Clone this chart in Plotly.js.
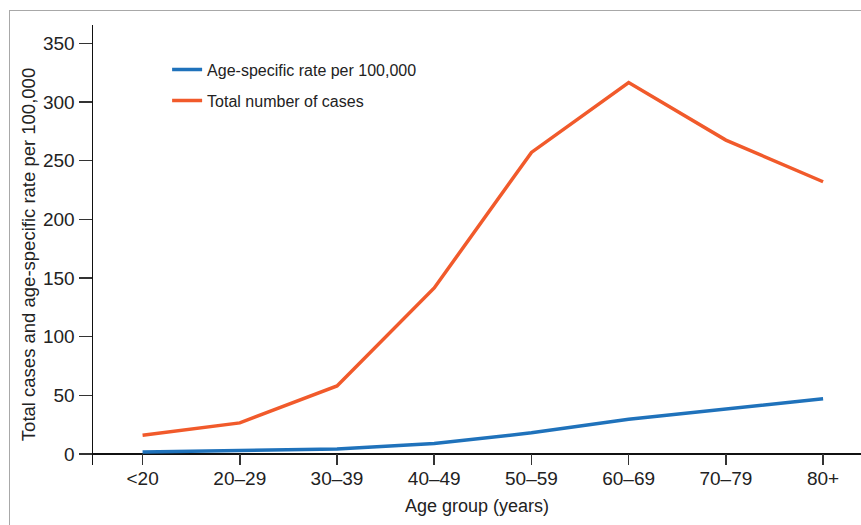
<!DOCTYPE html>
<html>
<head>
<meta charset="utf-8">
<script src="https://cdn.plot.ly/plotly-3.0.1.min.js"></script>
<style>
  html, body { margin: 0; padding: 0; background: #fff; }
  #wrap { position: relative; width: 861px; height: 525px; }
  #chart { width: 861px; height: 525px; }
  #frame { position: absolute; left: 9px; top: 10px; width: 860px; height: 520px;
           border-left: 1.5px solid #a8a8a8; border-top: 1.5px solid #a8a8a8; pointer-events: none; }
</style>
</head>
<body>
<div id="wrap">
  <div id="chart"></div>
  <div id="frame"></div>
</div>
<script>
const ageGroups = ['<20', '20–29', '30–39', '40–49', '50–59', '60–69', '70–79', '80+'];
const ratePer100k = [1.7, 3.3, 4.3, 9, 18, 29.5, 38.5, 47];
const totalCases = [16, 26.5, 58, 141.5, 257, 316.5, 267.5, 232];
const yTicks = [0, 50, 100, 150, 200, 250, 300, 350];
const yTitle = 'Total cases and age-specific rate per 100,000';
const xTitle = 'Age group (years)';

const font = 'Liberation Sans, Arial, sans-serif';

const traces = [
  {
    x: ageGroups, y: ratePer100k, type: 'scatter', mode: 'lines',
    name: 'Age-specific rate per 100,000', legendgroup: 'a',
    line: { color: '#1f72bb', width: 3.5 }
  },
  {
    x: ageGroups, y: totalCases, type: 'scatter', mode: 'lines',
    name: 'Total number of cases', legendgroup: 'b',
    line: { color: '#f15a2b', width: 3.5 }
  }
];

const layout = {
  width: 861, height: 525,
  margin: { l: 93, r: 0, t: 25, b: 60 },
  paper_bgcolor: '#fff', plot_bgcolor: '#fff',
  font: { family: font, color: '#222', size: 16 },
  showlegend: true,
  legend: {
    x: 0.0965, y: 0.937, xanchor: 'left', yanchor: 'top',
    bgcolor: 'rgba(0,0,0,0)', font: { size: 16, color: '#222' },
    traceorder: 'grouped', tracegroupgap: 7, itemwidth: 30
  },
  xaxis: {
    type: 'category', range: [-0.51, 7.39],
    showgrid: false, showline: false, zeroline: false,
    ticks: 'inside', ticklen: 11, tickwidth: 1.5, tickcolor: '#333',
    tickfont: { size: 19, color: '#222' },
    title: { text: xTitle, font: { size: 18, color: '#222' }, standoff: 11 }
  },
  yaxis: {
    range: [-9.4, 365.6],
    tickvals: yTicks, ticktext: yTicks.map(String),
    showgrid: false, showline: true, linecolor: '#111', linewidth: 1.5,
    zeroline: true, zerolinecolor: '#111', zerolinewidth: 1.5,
    ticks: 'outside', ticklen: 13, tickwidth: 1.5, tickcolor: '#333',
    tickfont: { size: 19, color: '#222' }
  },
  annotations: [{
    text: yTitle, textangle: -90, showarrow: false,
    xref: 'paper', yref: 'paper', x: -0.0846, y: 0.477,
    xanchor: 'center', yanchor: 'middle',
    font: { size: 18.5, color: '#222', family: font }
  }]
};

Plotly.newPlot('chart', traces, layout, { displayModeBar: false, staticPlot: true });
</script>
</body>
</html>
